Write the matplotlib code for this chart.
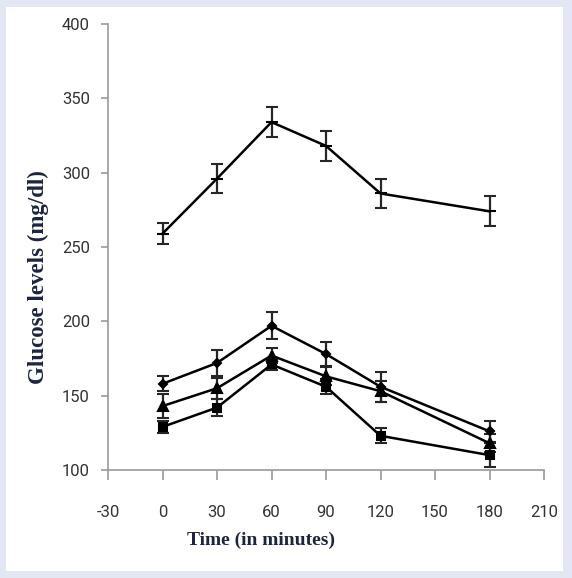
import matplotlib
matplotlib.use('Agg')
import matplotlib.pyplot as plt
from matplotlib.patches import Rectangle

plt.rcParams['axes.unicode_minus'] = False

# Data
time_min = [0, 30, 60, 90, 120, 180]

diabetic = [259, 296, 334, 318, 286, 274]
diabetic_err = [7, 10, 10, 10, 10, 10]

group_diamond = [158, 172, 197, 178, 156, 126]
group_diamond_err = [5, 9, 9, 8, 10, 7]

group_triangle = [143, 155, 177, 163, 153, 118]
group_triangle_err = [8, 7, 5, 6, 7, 6]

group_square = [129, 142, 171, 156, 123, 110]
group_square_err = [4, 6, 4, 5, 5, 8]

x_ticks = [-30, 0, 30, 60, 90, 120, 150, 180, 210]
y_ticks = [100, 150, 200, 250, 300, 350, 400]

tick_font = ['Liberation Sans Narrow', 'Roboto', 'DejaVu Sans']
label_font = ['Liberation Serif', 'DejaVu Serif']
navy = '#1c2440'
axis_gray = '#9a9a9a'

fig = plt.figure(figsize=(5.72, 5.78), dpi=100)
fig.patch.set_facecolor('#e2e7f3')
# white inner panel
panel = Rectangle((5.5 / 572, 1 - 571 / 578), 557.5 / 572, 564 / 578,
                  transform=fig.transFigure, facecolor='white',
                  edgecolor='none', zorder=-5)
fig.add_artist(panel)

ax = fig.add_axes([108 / 572, 1 - 470 / 578, 436 / 572, 446 / 578])
ax.set_zorder(2)
ax.set_facecolor('none')

series = [
    (diabetic, diabetic_err, '_', 9),
    (group_diamond, group_diamond_err, 'D', 4.5),
    (group_triangle, group_triangle_err, '^', 6.5),
    (group_square, group_square_err, 's', 5.5),
]
for vals, errs, mk, ms in series:
    ax.errorbar(time_min, vals, yerr=errs, color='black', lw=1.8,
                marker=mk, ms=ms, mew=1.5, ecolor='#262626',
                elinewidth=1.6, capsize=4, capthick=1.6, zorder=3)

ax.set_xlim(-30, 210)
ax.set_ylim(100, 400)
ax.set_xticks(x_ticks)
ax.set_yticks(y_ticks)

for side in ['top', 'right']:
    ax.spines[side].set_visible(False)
for side in ['left', 'bottom']:
    ax.spines[side].set_color(axis_gray)
    ax.spines[side].set_linewidth(1.2)

ax.tick_params(axis='y', direction='out', length=5, width=1.2, color=axis_gray,
               pad=8, labelsize=12, labelcolor='#333333')
ax.tick_params(axis='x', direction='out', length=7, width=1.2, color=axis_gray,
               pad=18, labelsize=12, labelcolor='#333333')
for lab in ax.get_xticklabels() + ax.get_yticklabels():
    lab.set_family(tick_font)

fig.text(261 / 572, 1 - 540 / 578, 'Time (in minutes)', ha='center', va='center',
         fontsize=14, fontweight='bold', color=navy, family=label_font, zorder=3)
fig.text(38 / 572, 1 - 277 / 578, 'Glucose levels (mg/dl)', ha='center', va='center',
         rotation=90, fontsize=16.5, fontweight='bold', color=navy, family=label_font,
         zorder=3)

fig.savefig('out.png', dpi=100, facecolor=fig.get_facecolor())
